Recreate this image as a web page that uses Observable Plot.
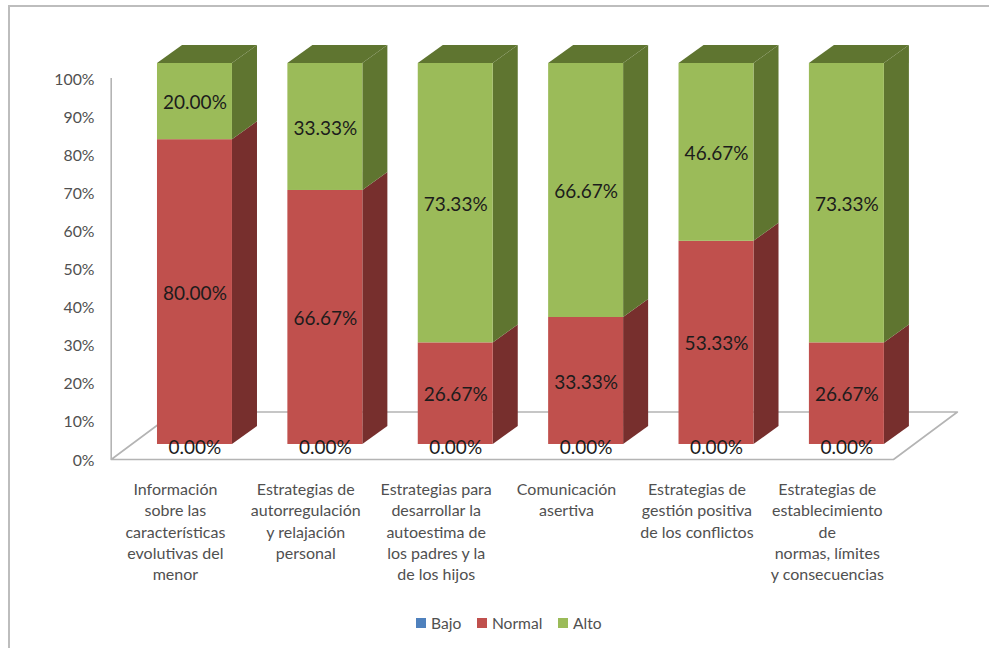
<!DOCTYPE html>
<html lang="es">
<head>
<meta charset="utf-8">
<script src="https://cdn.jsdelivr.net/npm/d3@7"></script>
<script src="https://cdn.jsdelivr.net/npm/@observablehq/plot@0.6"></script>
<style>
  html, body { margin: 0; padding: 0; background: #fff; }
  body { width: 989px; height: 648px; overflow: hidden; position: relative; }
  #frame { position: absolute; left: 8px; top: 5px; right: 0; bottom: 0;
           border-top: 2px solid #bdbdbd; border-left: 2px solid #bdbdbd; }
  #chart { position: absolute; left: 0; top: 0; }
  #chart svg { display: block; }
  #legend { position: absolute; left: 416px; top: 606px; }
  #legend svg { margin-right: 5px !important; }
</style>
</head>
<body>
<div id="frame"></div>
<div id="chart"></div>
<div id="legend"></div>
<script>
const categories = [
  "Información\nsobre las\ncaracterísticas\nevolutivas del\nmenor",
  "Estrategias de\nautorregulación\ny relajación\npersonal",
  "Estrategias para\ndesarrollar la\nautoestima de\nlos padres y la\nde los hijos",
  "Comunicación\nasertiva",
  "Estrategias de\ngestión positiva\nde los conflictos",
  "Estrategias de\nestablecimiento\nde\nnormas, límites\ny consecuencias"
];
const seriesNames = ["Bajo", "Normal", "Alto"];
const bajo   = [0, 0, 0, 0, 0, 0];
const normal = [80, 66.67, 26.67, 33.33, 53.33, 26.67];
const alto   = [20, 33.33, 73.33, 66.67, 46.67, 73.33];
const frontColors = ["#4f81bd", "#c0504d", "#9bbb59"];
const sideColors  = ["#3b618e", "#772f2d", "#5f7530"];
const yTicks = d3.range(0, 101, 10);

// Oblique projection expressed in scale units
const floorDx = 0.49, floorDy = 12.47;
const barInset = 0.355, barWidth = 0.575;
const baseY = 3.94, depthX = 0.192, depthY = 4.72;

const font = "Lato, 'Open Sans', sans-serif";

const values = [bajo, normal, alto];
const segments = [];
categories.forEach((c, i) => {
  let acc = 0;
  seriesNames.forEach((s, k) => {
    const v = values[k][i];
    segments.push({
      i, series: s, value: v,
      left: i + barInset, right: i + barInset + barWidth,
      lo: baseY + acc, hi: baseY + acc + v, mid: baseY + acc + v / 2
    });
    acc += v;
  });
});
const solid = segments.filter(d => d.value > 0);

const sideRows = solid.flatMap(d => [
  {series: d.series, id: d.i + d.series, x: d.right, y1: d.lo, y2: d.hi},
  {series: d.series, id: d.i + d.series, x: d.right + depthX, y1: d.lo + depthY, y2: d.hi + depthY}
]);
const tops = solid.filter(d => d.series === "Alto");
const topRows = tops.flatMap(d => [
  {id: d.i, y: d.hi, x1: d.left, x2: d.right},
  {id: d.i, y: d.hi + depthY, x1: d.left + depthX, x2: d.right + depthX}
]);
const floor = [
  {x: 0, y: 0}, {x: 6, y: 0}, {x: 6 + floorDx, y: floorDy}, {x: floorDx, y: floorDy}, {x: 0, y: 0}
];

const plot = Plot.plot({
  width: 989,
  height: 612,
  marginLeft: 110,
  marginRight: 97,
  marginTop: 78,
  marginBottom: 153,
  style: {background: "transparent", overflow: "visible"},
  x: {domain: [0, 6], range: [110.7, 893], axis: null},
  y: {domain: [0, 100], range: [459, 78], axis: null},
  color: {domain: seriesNames, range: frontColors},
  marks: [
    Plot.line(floor, {x: "x", y: "y", stroke: "#b4b4b4", strokeWidth: 1.6}),
    Plot.ruleX([0], {y1: 0, y2: 100, stroke: "#b4b4b4", strokeWidth: 1.6}),
    Plot.axisY({
      ticks: yTicks, tickFormat: d => d + "%", tickSize: 0, tickPadding: 16, label: null,
      fontSize: 15.8, fontFamily: font, fill: "#505050", dy: 1
    }),
    Plot.axisX({
      ticks: categories.map((c, i) => i + 0.5),
      tickFormat: d => categories[Math.floor(d)],
      tickSize: 0, tickPadding: 20, label: null, dx: -1,
      lineAnchor: "top", lineHeight: 1.34,
      fontSize: 16, fontFamily: font, fill: "#505050"
    }),
    ...seriesNames.map((s, k) => Plot.area(sideRows.filter(d => d.series === s), {
      x1: "x", y1: "y1", y2: "y2", z: "id", fill: sideColors[k]
    })),
    Plot.area(topRows, {y1: "y", x1: "x1", x2: "x2", z: "id", fill: sideColors[2]}),
    Plot.rect(solid, {x1: "left", x2: "right", y1: "lo", y2: "hi", fill: "series"}),
    Plot.text(solid, {
      x: d => d.left + barWidth / 2, y: "mid", dy: 1.5,
      text: d => d3.format(".2f")(d.value) + "%",
      fontSize: 19, fontFamily: font, fill: "#1c1c1c"
    }),
    Plot.text(segments.filter(d => d.value === 0), {
      x: d => d.left + barWidth / 2, y: "mid", dy: 3,
      text: d => d3.format(".2f")(d.value) + "%",
      fontSize: 19, fontFamily: font, fill: "#1c1c1c"
    })
  ]
});
document.getElementById("chart").appendChild(plot);

const legend = plot.legend("color", {
  swatchSize: 10,
  style: {fontFamily: font, fontSize: "15.6px", color: "#505050"}
});
document.getElementById("legend").appendChild(legend);
</script>
</body>
</html>
